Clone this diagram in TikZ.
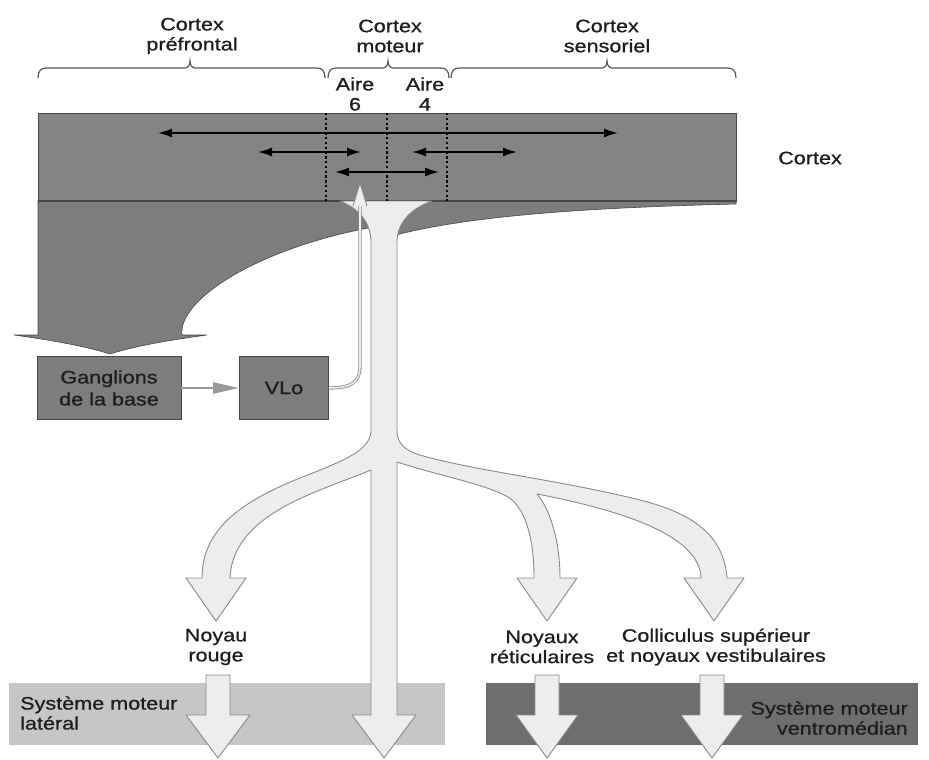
\documentclass[tikz,border=0pt]{standalone}
\usepackage{fontspec}
\setmainfont{Liberation Sans}[FakeStretch=1.2,FakeBold=0.8]
\usetikzlibrary{arrows.meta}
\definecolor{bandgray}{HTML}{848484}
\definecolor{wedgegray}{HTML}{7D7D7D}
\definecolor{edgegray}{HTML}{474747}
\definecolor{tractfill}{HTML}{EDEDED}
\definecolor{tractedge}{HTML}{8A8A8A}
\definecolor{lightband}{HTML}{C6C6C6}
\definecolor{darkband}{HTML}{6E6E6E}
\definecolor{txt}{HTML}{1E1E1E}
\definecolor{linkgray}{HTML}{9A9A9A}
\definecolor{bracegray}{HTML}{555555}
\begin{document}
\begin{tikzpicture}[x=1pt,y=-1pt,
  lbl/.style={font=\fontsize{18}{20}\selectfont, text=txt, align=center, inner sep=0pt},
  tract/.style={fill=tractfill, draw=tractedge, line width=0.9pt, line join=round},
  wedge/.style={fill=wedgegray, draw=edgegray, line width=0.6pt},
  dashline/.style={draw=black, line width=1.2pt, dash pattern=on 2.4pt off 2.4pt},
  inarrow/.style={draw=black, line width=1.6pt, {Latex[length=14pt,width=9pt]}-{Latex[length=14pt,width=9pt]}},
  bracestyle/.style={draw=bracegray, line width=1.2pt},
  boxstyle/.style={draw=edgegray, fill=wedgegray, line width=0.8pt, minimum height=63pt, inner sep=0pt, font=\fontsize{18}{22}\selectfont, text=txt, align=center}
]
\useasboundingbox[fill=white] (0,0) rectangle (929,760);

% bottom bands
\fill[lightband] (9,683) rectangle (445,745);
\fill[darkband] (486,683) rectangle (918,745);

% arrows inside bands
\path[tract] (206,675) -- (230,675) -- (230,715) -- (250,715) -- (218,758) -- (186,715) -- (206,715) -- cycle;
\path[tract] (535,675) -- (559,675) -- (559,715) -- (578,715) -- (547,758) -- (516,715) -- (535,715) -- cycle;
\path[tract] (700,675) -- (724,675) -- (724,715) -- (743,715) -- (712,758) -- (681,715) -- (700,715) -- cycle;

% cortex band
\path[fill=bandgray, draw=edgegray, line width=0.6pt] (38,113) rectangle (736,201);

% dark wedges under cortex
\path[wedge] (38,201) -- (38,335) -- (14,335)
  .. controls (50,340) and (85,346) .. (110,354)
  .. controls (135,346) and (170,340) .. (207,335)
  -- (182,335) .. controls (178,300) and (255,250) .. (368,228)
  -- (372,201) -- cycle;
\path[wedge] (380,201) -- (736,201) -- (736,204)
  .. controls (620,207) and (470,213) .. (385,238) -- cycle;
\draw[edgegray, line width=2pt] (38,201) -- (736,201);

% white fibre tract
\path[tract] (340,201)
  .. controls (358,208) and (371,222) .. (371,242)
  -- (371,432)
  .. controls (369,452) and (340,462) .. (300,478)
  .. controls (240,502) and (202,530) .. (202,578)
  -- (186,578) -- (216,621) -- (246,578) -- (230,578)
  .. controls (232,535) and (270,510) .. (320,490)
  .. controls (342,481) and (362,474) .. (371,470)
  -- (371,715) -- (352,715) -- (384,758) -- (416,715) -- (397,715)
  -- (397,462)
  .. controls (440,476) and (485,484) .. (508,497)
  .. controls (528,510) and (534,545) .. (534,578)
  -- (517,578) -- (547,621) -- (577,578) -- (560,578)
  .. controls (560,545) and (552,512) .. (537,494)
  .. controls (620,510) and (700,535) .. (701,578)
  -- (684,578) -- (714,621) -- (744,578) -- (727,578)
  .. controls (724,540) and (700,515) .. (640,500)
  .. controls (560,480) and (470,470) .. (420,455)
  .. controls (403,450) and (397,442) .. (397,430)
  -- (397,242)
  .. controls (397,222) and (412,208) .. (432,201)
  -- cycle;

% dashed area limits
\draw[dashline] (326,113) -- (326,201);
\draw[dashline] (387,113) -- (387,201);
\draw[dashline] (447,113) -- (447,201);

% cortico-cortical arrows
\draw[inarrow] (158,133) -- (618,133);
\draw[inarrow] (258,152) -- (361,152);
\draw[inarrow] (412,152) -- (517,152);
\draw[inarrow] (335,172) -- (439,172);

% boxes
\node[boxstyle, minimum width=144pt] (gang) at (109,388) {Ganglions\\de la base};
\node[boxstyle, minimum width=89pt] (vlo) at (284,388) {VLo};
\draw[draw=linkgray, line width=2.5pt, -{Triangle[length=26pt,width=11pt]}] (gang.east) -- (vlo.west);

% VLo to cortex
\coordinate (vlotop) at (360,203);
\draw[draw=tractedge, double=tractfill, double distance=1.6pt, line width=0.8pt]
  (vlo.east) .. controls (352,388) and (360,382) .. (360,366) -- (vlotop);
\draw[fill=tractfill, draw=tractedge, line width=0.9pt] (353,206) -- (360,183) -- (367,206);

% braces
\draw[bracestyle] (38,78) .. controls (38,71) and (41,68) .. (46,68) -- (185,68)
  .. controls (188,68) and (190,65) .. (190,61) .. controls (190,65) and (192,68) .. (195,68)
  -- (317,68) .. controls (322,68) and (325,71) .. (325,78);
\draw[bracestyle] (328,78) .. controls (328,71) and (331,68) .. (336,68) -- (383,68)
  .. controls (386,68) and (388,65) .. (388,61) .. controls (388,65) and (390,68) .. (393,68)
  -- (441,68) .. controls (446,68) and (449,71) .. (449,78);
\draw[bracestyle] (451,78) .. controls (451,71) and (454,68) .. (459,68) -- (602,68)
  .. controls (605,68) and (607,65) .. (607,61) .. controls (607,65) and (609,68) .. (612,68)
  -- (728,68) .. controls (733,68) and (736,71) .. (736,78);

% labels
\node[lbl] (lpref) at (192,36) {Cortex\\préfrontal};
\node[lbl] (lmot) at (390,36) {Cortex\\moteur};
\node[lbl] (lsens) at (607,36) {Cortex\\sensoriel};
\node[lbl] (laire6) at (355,94) {Aire\\6};
\node[lbl] (laire4) at (425,94) {Aire\\4};
\node[lbl] (lcortex) at (810,158) {Cortex};
\node[lbl] (lrouge) at (216,647) {Noyau\\rouge};
\node[lbl] (lret) at (542,647) {Noyaux\\réticulaires};
\node[lbl] (lcoll) at (716,647) {Colliculus supérieur\\et noyaux vestibulaires};
\node[lbl, align=left, anchor=west] (llat) at (20,713) {Système moteur\\latéral};
\node[lbl, align=right, anchor=east] (lvent) at (908,718) {Système moteur\\ventromédian};
\end{tikzpicture}
\end{document}
